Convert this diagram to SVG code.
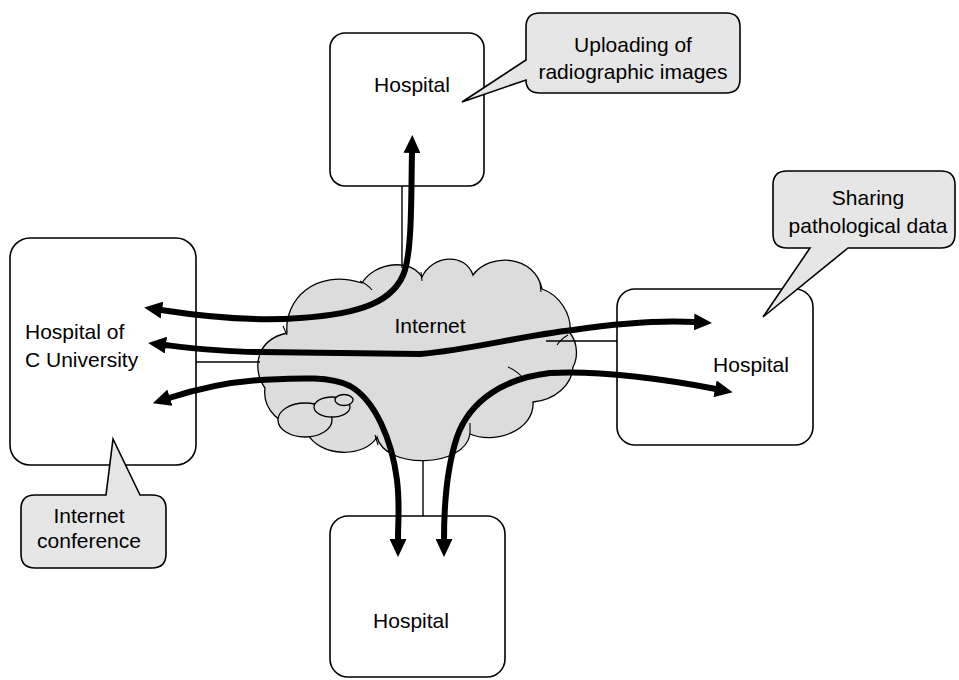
<svg xmlns="http://www.w3.org/2000/svg" width="959" height="680" viewBox="0 0 959 680">
<defs>
<style>
.box{fill:#ffffff;stroke:#000;stroke-width:1.6}
.callout{fill:#e6e6e6;stroke:#000;stroke-width:1.6;stroke-linejoin:miter}
.cloud{fill:#dcdcdc;stroke:#000;stroke-width:1.3}
.seam{fill:none;stroke:#000;stroke-width:1.1}
.thin{fill:none;stroke:#000;stroke-width:1.4}
.arrow{fill:none;stroke:#000;stroke-width:6;stroke-linecap:butt;marker-end:url(#head);marker-start:url(#head)}
text{font-family:"Liberation Sans",Arial,sans-serif;font-size:21px;fill:#000}
.c{text-anchor:middle}
</style>
<marker id="head" viewBox="0 0 18 17" refX="1" refY="8.5" markerWidth="18" markerHeight="17" markerUnits="userSpaceOnUse" orient="auto-start-reverse">
<path d="M0,0 L18,8.5 L0,17 Z" fill="#000"/>
</marker>
</defs>
<rect width="959" height="680" fill="#ffffff"/>

<g id="internet">
<path class="cloud" d="M287,333 C284,300 315,268 362,283 C375,262 410,258 422,277 C432,255 465,252 473,275 C490,252 535,255 542,289 C560,295 572,315 570,333 C578,343 578,358 573,367 C572,385 555,400 533,402 C535,430 495,445 470,434 C465,468 385,470 377,437 C365,458 320,458 307,433 C280,425 262,410 265,388 C252,370 255,340 287,333 Z"/>
<ellipse class="cloud" cx="305" cy="420" rx="27" ry="17"/>
<ellipse class="cloud" cx="332" cy="407" rx="18" ry="10"/>
<ellipse class="cloud" cx="344" cy="400" rx="9" ry="5.5"/>
<path class="seam" d="M360,281 Q367,284 372,290 M421,272 L422,281 M540,283 L541,292 M568,335 Q561,339 557,345 M508,367 Q517,371 523,378 M470,423 L470,434 M375,435 L378,445 M283,326 L287,335"/>
<text class="c" x="430" y="333">Internet</text>
</g>

<g id="connectors">
<line class="thin" x1="402" y1="186" x2="402" y2="268"/>
<line class="thin" x1="196" y1="362" x2="260" y2="362"/>
<line class="thin" x1="546" y1="341" x2="618" y2="341"/>
<line class="thin" x1="423" y1="461" x2="423" y2="516"/>
</g>

<g id="hospital-top">
<rect class="box" x="330" y="33" width="154" height="153" rx="15"/>
<text class="c" x="412" y="92">Hospital</text>
</g>
<g id="hospital-c-university">
<rect class="box" x="10" y="238" width="186" height="227" rx="20"/>
<text x="25" y="339">Hospital of</text>
<text x="25" y="367">C University</text>
</g>
<g id="hospital-right">
<rect class="box" x="617" y="289" width="196" height="156" rx="18"/>
<text class="c" x="751" y="372">Hospital</text>
</g>
<g id="hospital-bottom">
<rect class="box" x="330" y="516" width="175" height="161" rx="18"/>
<text class="c" x="411" y="628">Hospital</text>
</g>

<g id="arrows">
<path class="arrow" d="M161,310 C200,316 250,322 300,318 C360,314 395,302 405,270 C412,245 411,200 412,152"/>
<path class="arrow" d="M165,345 C190,348 220,352 260,352 L420,354 C470,350 520,336 573,330 C620,323 660,320 695,322"/>
<path class="arrow" d="M169,398 C200,388 230,382 260,380 C300,378 330,376 350,386 C375,400 392,440 397,480 C400,505 398,520 398,540"/>
<path class="arrow" d="M444,540 C444,510 446,470 457,437 C470,400 505,378 550,373 C600,370 670,380 716,389"/>
</g>

<g id="callout-upload">
<path class="callout" d="M540,13 L726,13 Q740,13 740,27 L740,79 Q740,93 726,93 L540,93 Q526,93 526,80 L462,102 L526,60 L526,27 Q526,13 540,13 Z"/>
<text class="c" x="633" y="52">Uploading of</text>
<text class="c" x="633" y="79">radiographic images</text>
</g>
<g id="callout-sharing">
<path class="callout" d="M787,171 L941,171 Q955,171 955,185 L955,234 Q955,248 941,248 L848,248 L763,317 L810,248 L787,248 Q773,248 773,234 L773,185 Q773,171 787,171 Z"/>
<text class="c" x="868" y="205">Sharing</text>
<text class="c" x="868" y="233">pathological data</text>
</g>
<g id="callout-conference">
<path class="callout" d="M35,495 L106,495 L113,439 L140,495 L152,495 Q166,495 166,509 L166,554 Q166,568 152,568 L35,568 Q21,568 21,554 L21,509 Q21,495 35,495 Z"/>
<text class="c" x="89" y="523">Internet</text>
<text class="c" x="89" y="548">conference</text>
</g>
</svg>
